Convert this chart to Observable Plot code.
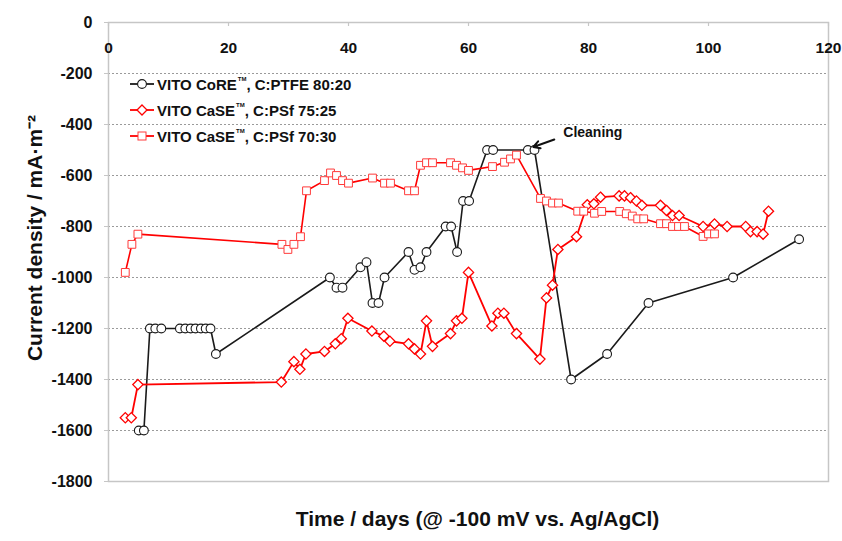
<!DOCTYPE html>
<html>
<head>
<meta charset="utf-8">
<script src="https://cdn.jsdelivr.net/npm/d3@7"></script>
<script src="https://cdn.jsdelivr.net/npm/@observablehq/plot@0.6"></script>
<style>
  html, body { margin: 0; padding: 0; background: #fff; }
  #wrap { position: relative; width: 842px; height: 541px; font-family: "Liberation Sans", Arial, sans-serif; }
  #legend { position: absolute; left: 128px; top: 71px; font-weight: bold; font-size: 15px; color: #111; }
  .row { height: 26px; display: flex; align-items: center; white-space: nowrap; }
  .row svg { margin-right: 1px; }
  sup { font-size: 6px; vertical-align: 9px; margin-left: 1px; }
</style>
</head>
<body>
<div id="wrap">
  <div id="chart"></div>
  <div id="legend"></div>
</div>
<script>
// ---- data ----
const coreDays   = [5.05, 5.9, 6.9, 7.8, 8.8, 11.9, 12.8, 13.7, 14.5, 15.4, 16.2, 17.0, 17.9, 36.9, 38, 39, 42, 43, 44, 45, 46, 50, 51, 52, 53, 56.2, 57.1, 58.1, 59.1, 60.1, 63.1, 64.1, 69.9, 71, 77.1, 83.1, 90, 104.1, 115.1];
const coreValues = [-1600, -1600, -1200, -1200, -1200, -1200, -1200, -1200, -1200, -1200, -1200, -1200, -1300, -1000, -1040, -1040, -960, -940, -1100, -1100, -1000, -900, -970, -960, -900, -800, -800, -900, -700, -700, -500, -500, -500, -500, -1400, -1300, -1100, -1000, -850];

const case75Days   = [2.8, 3.8, 4.9, 28.8, 30.9, 31.9, 32.9, 36, 37.8, 38.8, 39.9, 43.9, 45.9, 46.9, 50, 51, 52, 53, 54, 57, 58, 58.9, 60, 63.9, 64.9, 65.9, 68, 71.9, 73, 74, 74.9, 78, 79.8, 80.9, 82, 85.1, 86, 87, 88, 88.9, 92, 93, 94, 95.1, 99.1, 101, 103.1, 106.2, 107, 108.1, 109.1, 110];
const case75Values = [-1550, -1550, -1420, -1410, -1330, -1360, -1300, -1290, -1260, -1240, -1160, -1210, -1230, -1250, -1260, -1280, -1300, -1170, -1270, -1220, -1170, -1160, -980, -1190, -1140, -1140, -1220, -1320, -1080, -1030, -890, -840, -715, -711, -685, -680, -680, -687, -700, -717, -717, -737, -757, -757, -800, -790, -800, -800, -820, -820, -830, -740];

const case70Days   = [2.8, 3.9, 4.9, 28.9, 29.9, 30.9, 32, 33, 36, 37, 38, 39, 40, 44, 46, 47, 50, 51, 52, 53, 54, 57, 58, 59, 60, 64, 66, 67, 68, 72, 73, 74, 75, 78.2, 79.2, 81, 82.2, 85.2, 86.3, 87.3, 88.2, 89.2, 92, 93, 94, 95, 96, 99.1, 100, 101];
const case70Values = [-980, -870, -830, -870, -890, -870, -840, -660, -620, -590, -600, -620, -630, -610, -630, -630, -660, -660, -560, -550, -550, -550, -560, -570, -580, -565, -548, -535, -520, -690, -700, -708, -708, -740, -740, -748, -741, -741, -750, -759, -770, -770, -789, -789, -800, -800, -800, -839, -829, -829];

const seriesNames = ["VITO CoRE", "VITO CaSE", "VITO CaSE"];
const seriesSuffix = [", C:PTFE 80:20", ", C:PSf 75:25", ", C:PSf 70:30"];
const xTicks = [0, 20, 40, 60, 80, 100, 120];
const yTicks = [0, -200, -400, -600, -800, -1000, -1200, -1400, -1600, -1800];
const xTitle = "Time / days (@ -100 mV vs. Ag/AgCl)";
const yTitle = "Current density / mA\u00B7m\u207B\u00B2";
const noteText = ["Cleaning"];
const noteDay = [75.8];
const noteValue = [-433];
const arrowFrom = [74.3, -459];
const arrowTo = [70.8, -488];

// ---- build tables ----
const core = coreDays.map((d, i) => ({day: d, value: coreValues[i]}));
const case75 = case75Days.map((d, i) => ({day: d, value: case75Values[i]}));
const case70 = case70Days.map((d, i) => ({day: d, value: case70Values[i]}));

const W = 842, H = 541, MT = 22, MB = 60, ML = 108, MR = 14;
const plotH = H - MT - MB;
const font = "Liberation Sans, Arial, sans-serif";
const RED = "#ff0000", SQ = "#ff3a3a", BLACK = "#1a1a1a", FRAME = "#c6c6c6";

const chart = Plot.plot({
  width: W, height: H,
  marginTop: MT, marginBottom: MB, marginLeft: ML, marginRight: MR,
  style: {fontFamily: font, background: "white", overflow: "visible", color: "#111"},
  x: {domain: [0, 120], axis: null},
  y: {domain: [-1800, 0], axis: null},
  marks: [
    Plot.gridY(yTicks.filter(v => v > -1800 && v < 0), {stroke: "#9a9a9a", strokeOpacity: 1, strokeDasharray: "2,2", strokeWidth: 1}),
    Plot.frame({stroke: FRAME, strokeWidth: 1.5}),
    Plot.axisY(yTicks, {tickSize: 4, tickPadding: 12, fontSize: 16, fontWeight: "bold", stroke: FRAME, fill: "#111", tickFormat: d => String(d), label: null}),
    Plot.tickX(xTicks, {x: d => d, stroke: FRAME, strokeWidth: 1.2, insetBottom: plotH - 4}),
    Plot.text(xTicks, {x: d => d, text: d => String(d), frameAnchor: "top", dy: 19, fontSize: 15.5, fontWeight: "bold", fill: "#111"}),
    // series
    Plot.line(core, {x: "day", y: "value", stroke: BLACK, strokeWidth: 1.6}),
    Plot.dot(core, {x: "day", y: "value", r: 4.4, fill: "white", stroke: BLACK, strokeWidth: 1.1}),
    Plot.line(case75, {x: "day", y: "value", stroke: RED, strokeWidth: 1.8}),
    Plot.dot(case75, {x: "day", y: "value", symbol: "diamond2", r: 4.6, fill: "white", stroke: RED, strokeWidth: 1.3}),
    Plot.line(case70, {x: "day", y: "value", stroke: RED, strokeWidth: 1.6}),
    Plot.dot(case70, {x: "day", y: "value", symbol: "square", r: 4.4, fill: "white", stroke: SQ, strokeWidth: 1}),
    // annotation
    Plot.text(noteText, {x: noteDay, y: noteValue, text: d => d, textAnchor: "start", fontSize: 14, fontWeight: "bold", fill: "#111"}),
    Plot.arrow([0], {x1: arrowFrom[0], y1: arrowFrom[1], x2: arrowTo[0], y2: arrowTo[1], stroke: "#111", strokeWidth: 2, headLength: 8}),
    // titles
    Plot.text([yTitle], {text: d => d, frameAnchor: "left", textAnchor: "middle", rotate: -90, dx: -73, dy: -14, fontSize: 21, fontWeight: "bold", fill: "#111"}),
    Plot.text([xTitle], {text: d => d, frameAnchor: "bottom", dy: 44, dx: 9, fontSize: 21, fontWeight: "bold", fill: "#111"})
  ]
});
document.getElementById("chart").appendChild(chart);

// ---- legend ----
const symbols = [
  `<circle cx="14" cy="8" r="4.4" fill="white" stroke="${BLACK}" stroke-width="1.1"/>`,
  `<path d="M14,3 L19,8 L14,13 L9,8 Z" fill="white" stroke="${RED}" stroke-width="1.3"/>`,
  `<rect x="10" y="4" width="8" height="8" fill="white" stroke="${SQ}" stroke-width="1"/>`
];
const strokes = [BLACK, RED, RED];
const legend = document.getElementById("legend");
seriesNames.forEach((name, i) => {
  const row = document.createElement("div");
  row.className = "row";
  row.innerHTML = `<svg width="28" height="16"><line x1="2" x2="26" y1="8" y2="8" stroke="${strokes[i]}" stroke-width="1.8"/>${symbols[i]}</svg><span>${name}<sup>TM</sup>${seriesSuffix[i]}</span>`;
  legend.appendChild(row);
});
</script>
</body>
</html>
